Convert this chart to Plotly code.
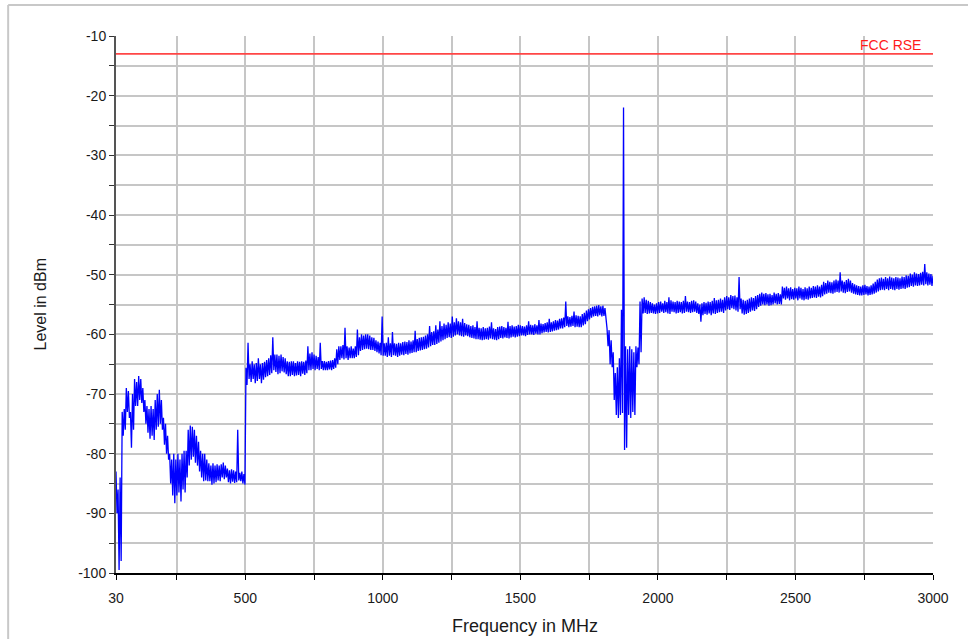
import numpy as np
import plotly.graph_objects as go

# Radiated spurious emission sweep, 30 MHz - 3 GHz.
# Each 7.5 MHz bin keeps the max-peak and min-peak detector readings.
BIN_MHZ = 7.5

band_30_500_start = 30.0
band_30_500_peak = [
    -83, -86, -84, -73, -72.5, -69, -69.5, -73, -70, -67.5,
    -68, -67, -67.5, -69, -71, -72, -72.5, -72, -72.5, -71,
    -70, -69.3, -71, -74, -75, -77, -80, -81, -80, -81,
    -80, -81, -80, -79.5, -79.5, -76, -75.3, -75.5, -76, -77,
    -78, -79.5, -80, -80, -81, -81.6, -82, -81.6, -82, -81.8,
    -82, -81.8, -81.5, -82, -82.5, -82.8, -82.6, -82.8, -83, -76,
    -83.2, -83, -83.4,
]
band_30_500_floor = [
    -90, -99.5, -98, -77, -76, -73, -74, -79, -76, -72,
    -72, -71, -71.5, -73, -75, -76.5, -77.5, -77, -77.7, -76,
    -75.5, -75, -76, -78.5, -80, -81, -85, -87, -88.3, -87,
    -86.5, -88, -86, -86.5, -84, -82, -81, -80.5, -81.5, -82,
    -83, -84, -84.6, -84.5, -84.6, -84.6, -85.2, -85, -84.8, -84.5,
    -84.6, -84, -84.3, -84, -84.8, -85, -84.7, -84.9, -84.8, -84.5,
    -84.6, -85, -85.2,
]

band_500_1000_start = 502.5
band_500_1000_peak = [
    -65.6, -61.4, -65, -64.5, -65, -64.8, -64, -65, -64.8, -64.6,
    -64.3, -64, -63.5, -60.5, -63.4, -63.4, -63.6, -63.4, -63.8, -64,
    -64.5, -64.6, -64.5, -64.5, -64.8, -64.5, -64.6, -64.5, -64.6, -64.4,
    -62, -63.2, -63, -63.4, -63.6, -63.8, -61.4, -64.5, -64.5, -64.6,
    -64.5, -64.4, -64.3, -64, -62.5, -62, -62, -61.8, -58.9, -62,
    -62.2, -62, -62.4, -62, -59.2, -60.5, -60, -60.2, -60, -60,
    -60.2, -60.5, -60.6, -61, -61.2, -61.4, -57,
]
band_500_1000_floor = [
    -68.5, -67.5, -68, -67.5, -68.2, -67.8, -67.5, -68.2, -67.6, -67.2,
    -67, -66.8, -66.5, -66, -66.3, -66.7, -66.5, -66.2, -66.4, -66.7,
    -67, -67, -66.8, -67, -66.9, -66.8, -67, -66.6, -66.8, -66.5,
    -66, -66, -65.8, -66, -65.8, -66, -65.8, -66, -66, -66,
    -65.9, -66, -65.8, -65.6, -65, -64.3, -64, -64.2, -64, -64.3,
    -64, -64, -64, -63.8, -63.5, -62.8, -62.6, -62.5, -62.4, -62.5,
    -62.6, -62.6, -62.8, -63, -63.2, -63.5, -63.6,
]

band_1000_1500_start = 1005.0
band_1000_1500_peak = [
    -61.5, -61.4, -60.5, -61.5, -59.6, -61.5, -61.6, -61.4, -61.5, -61.3,
    -61.2, -61.3, -61, -61.2, -61, -59.4, -60.8, -60.6, -60.5, -60.4,
    -60.2, -60, -58.6, -59.6, -59.5, -58.5, -59.2, -57.8, -58.6, -58.2,
    -58.4, -58, -58.2, -57, -58, -57.3, -57.8, -58, -57.4, -58.1,
    -58.3, -58.4, -58.6, -58.5, -58.8, -57.8, -58.9, -59, -58.8, -59,
    -58.9, -58.7, -58, -59, -59.1, -58.8, -58.7, -58.6, -58.8, -58.9,
    -57.9, -58.6, -58.5, -58.7, -58.6, -58.4, -58.5,
]
band_1000_1500_floor = [
    -63.6, -63.8, -63.6, -63.8, -63.5, -63.6, -63.8, -63.6, -63.4, -63.5,
    -63.3, -63.4, -63.2, -63.1, -63, -63, -62.8, -62.7, -62.6, -62.5,
    -62.4, -62.2, -62, -61.8, -61.8, -61.6, -61.4, -61.2, -61, -60.8,
    -60.6, -60.5, -60.6, -60.4, -60.2, -60, -60.2, -60.3, -60.4, -60.2,
    -60.3, -60.5, -60.6, -60.7, -60.8, -60.8, -60.9, -61, -60.9, -60.8,
    -60.9, -60.7, -60.8, -60.9, -61, -60.8, -60.6, -60.7, -60.5, -60.6,
    -60.7, -60.5, -60.4, -60.5, -60.4, -60.3, -60.2,
]

band_1500_2000_start = 1507.5
band_1500_2000_peak = [
    -58.6, -58.7, -58.5, -57.8, -58.4, -58.5, -58.3, -58.5, -57.6, -58.2,
    -58.3, -58.1, -58, -57.4, -58, -57.8, -57.6, -57.7, -57.4, -57.3,
    -57.2, -54.5, -57, -57.1, -56.9, -56.2, -56.8, -56.9, -57, -56.6,
    -56.4, -56, -55.8, -55.6, -55.4, -55.3, -55.2, -55.1, -55.3, -55.2,
    -55.6, -59, -59.3, -61, -63, -66.5, -65.5, -64, -55.9, -22,
    -62, -62.5, -62, -62.5, -63, -62, -62.2, -54.5, -54, -53.8,
    -54.2, -54.4, -54.6, -54.8, -55, -54.8,
]
band_1500_2000_floor = [
    -60.2, -60.3, -60.1, -60, -60, -60.1, -59.9, -60, -60, -59.8,
    -59.7, -59.6, -59.7, -59.6, -59.5, -59.4, -59.3, -59.2, -59, -59,
    -58.8, -58.6, -58.8, -58.7, -58.6, -58.8, -58.7, -58.8, -58.8, -58.5,
    -58.3, -57.8, -57.5, -57.2, -57, -56.9, -57, -56.8, -57, -56.9,
    -57.2, -62, -65, -65.5, -71, -73.5, -74, -73.5, -73.2, -79.4,
    -79, -73.5, -74, -73, -73.5, -65.5, -65, -63, -56.5, -56.4,
    -56.6, -56.5, -56.4, -56.5, -56.6, -56.5,
]

band_2000_2500_start = 2002.5
band_2000_2500_peak = [
    -54.6, -54.5, -54.8, -54.4, -54.6, -53.8, -54.3, -54.5, -54.6, -54.4,
    -54.5, -54.6, -54.4, -53.6, -54.5, -54.6, -54.4, -54.3, -54.5, -54.8,
    -55, -54.8, -54.6, -54.7, -54.5, -54.6, -54.4, -53.9, -54.3, -54.2,
    -54, -54.2, -53.8, -53.6, -53.8, -53.4, -53.6, -53.5, -53.8, -50.4,
    -54, -54.2, -54.4, -54.2, -54, -53.8, -53.9, -53.6, -53.4, -53.2,
    -53, -53.2, -53.1, -53.3, -53.2, -53.4, -53, -53.2, -53.1, -53.3,
    -52, -52.2, -52, -52.3, -52.1, -52.4, -52.2,
]
band_2000_2500_floor = [
    -56.4, -56.2, -56.4, -56.3, -56.5, -56.6, -56.2, -56.3, -56.5, -56.4,
    -56.3, -56.5, -56.4, -56.2, -56.3, -56.4, -56.3, -56.2, -56.4, -56.6,
    -57.9, -56.8, -56.6, -56.7, -56.5, -56.8, -56.5, -56.6, -56.4, -56.3,
    -56.2, -56.4, -56, -55.8, -55.9, -55.6, -55.8, -56, -56.2, -55.8,
    -56.5, -56.7, -56.6, -56.4, -56.2, -56, -56.1, -55.8, -55.4, -55.2,
    -55, -55.1, -55, -55.2, -55.1, -55, -54.8, -55, -54.9, -55,
    -54, -54.2, -54, -54.3, -54.1, -54.2, -54,
]

band_2500_3000_start = 2505.0
band_2500_3000_peak = [
    -52.3, -52, -52.2, -52.4, -52.1, -52.3, -52, -52.2, -51.9, -52,
    -51.8, -52, -51.7, -51.2, -51.4, -51, -51.2, -51.3, -51, -50.8,
    -51, -49.6, -51, -51.2, -50.9, -50.7, -51, -51.4, -51.6, -51.8,
    -51.9, -52, -51.8, -51.7, -51.9, -52, -51.8, -51.5, -51.2, -50.8,
    -50.6, -50.5, -50.7, -50.4, -50.6, -50.3, -50.5, -50.6, -50.4, -50.5,
    -50.6, -50.3, -50.4, -50.1, -50.2, -49.8, -50, -49.6, -49.8, -49.9,
    -49.7, -49.5, -48.2, -49.6, -49.8, -49.9, -50.2,
]
band_2500_3000_floor = [
    -54.3, -54, -54.2, -54.3, -54.1, -54.2, -54, -53.9, -53.8, -53.9,
    -53.7, -53.8, -53.6, -53.3, -53.2, -53, -53.1, -53.2, -53, -52.9,
    -53, -52.8, -53, -53.1, -52.9, -52.8, -53, -53.2, -53.3, -53.4,
    -53.5, -53.5, -53.4, -53.3, -53.5, -53.4, -53.3, -53.2, -53, -52.8,
    -52.6, -52.5, -52.6, -52.4, -52.6, -52.4, -52.5, -52.6, -52.4, -52.5,
    -52.4, -52.3, -52.4, -52.2, -52.1, -51.9, -52, -51.8, -51.9, -51.8,
    -51.7, -51.8, -51.6, -51.8, -51.7, -51.9, -51.6,
]

# FCC radiated spurious emission limit
limit_label = "FCC RSE"
limit_dbm = -13.0
limit_freqs = [30, 3000]

x_tick_vals = [30, 250, 500, 750, 1000, 1250, 1500, 1750, 2000, 2250, 2500, 2750, 3000]
x_tick_text = ["30", "", "500", "", "1000", "", "1500", "", "2000", "", "2500", "", "3000"]
y_tick_vals = [-100, -95, -90, -85, -80, -75, -70, -65, -60, -55, -50, -45, -40,
               -35, -30, -25, -20, -15, -10]
y_tick_text = ["-100", "", "-90", "", "-80", "", "-70", "", "-60", "", "-50", "", "-40",
               "", "-30", "", "-20", "", "-10"]

bands = [
    (band_30_500_start, band_30_500_peak, band_30_500_floor),
    (band_500_1000_start, band_500_1000_peak, band_500_1000_floor),
    (band_1000_1500_start, band_1000_1500_peak, band_1000_1500_floor),
    (band_1500_2000_start, band_1500_2000_peak, band_1500_2000_floor),
    (band_2000_2500_start, band_2000_2500_peak, band_2000_2500_floor),
    (band_2500_3000_start, band_2500_3000_peak, band_2500_3000_floor),
]

# the trace alternates max- and min-peak readings inside each bin
freq = []
level = []
for start, peaks, floors in bands:
    bin_freqs = start + BIN_MHZ * np.arange(len(peaks))
    for f, hi, lo in zip(bin_freqs, peaks, floors):
        freq.extend([float(f), float(f) + BIN_MHZ / 2])
        level.extend([hi, lo])

FONT = "Liberation Sans, Arial, sans-serif"
TEXT = "#1a1a1a"

fig = go.Figure()
fig.add_trace(go.Scatter(
    x=limit_freqs, y=[limit_dbm] * len(limit_freqs), mode="lines",
    line=dict(color="rgb(255,70,70)", width=1.6), hoverinfo="skip",
))
fig.add_trace(go.Scatter(
    x=freq, y=level, mode="lines",
    line=dict(color="#0000ff", width=1.3), hoverinfo="skip",
))

fig.add_annotation(
    x=limit_freqs[-1], y=limit_dbm, xref="x", yref="y", text=limit_label,
    showarrow=False, xanchor="right", yanchor="bottom", xshift=-10, yshift=-1,
    font=dict(family=FONT, size=14, color="#ff1a1a"),
)
fig.add_annotation(
    x=0.5, y=-0.098, xref="paper", yref="paper", text="Frequency in MHz",
    showarrow=False, xanchor="center", yanchor="middle",
    font=dict(family=FONT, size=18, color=TEXT),
)
fig.add_annotation(
    x=-0.093, y=0.5, xref="paper", yref="paper", text="Level in dBm",
    showarrow=False, textangle=-90, xanchor="center", yanchor="middle",
    font=dict(family=FONT, size=16, color=TEXT),
)

# outer frame of the page
fig.add_shape(type="line", xref="paper", yref="paper", x0=-0.132, x1=1.1,
              y0=1.0577, y1=1.0577, line=dict(color="#c8c8c8", width=2), layer="below")
fig.add_shape(type="line", xref="paper", yref="paper", x0=-0.132, x1=-0.132,
              y0=-0.2, y1=1.0577, line=dict(color="#c8c8c8", width=2), layer="below")

fig.update_layout(
    width=968, height=639,
    margin=dict(l=116, r=35, t=36, b=66),
    paper_bgcolor="white", plot_bgcolor="white",
    showlegend=False,
    font=dict(family=FONT, size=14, color=TEXT),
    xaxis=dict(
        range=[30, 3000], tickmode="array", tickvals=x_tick_vals, ticktext=x_tick_text,
        showgrid=True, gridcolor="#c6c6c6", gridwidth=1.5,
        showline=True, linecolor="#000000", linewidth=1.5,
        ticks="outside", ticklen=5, tickcolor="#000000", tickwidth=1,
        ticklabelstandoff=6, zeroline=False,
        tickfont=dict(family=FONT, size=14, color=TEXT),
    ),
    yaxis=dict(
        range=[-100, -10], tickmode="array", tickvals=y_tick_vals, ticktext=y_tick_text,
        showgrid=True, gridcolor="#c6c6c6", gridwidth=1.5,
        showline=True, linecolor="#555555", linewidth=2,
        ticks="outside", ticklen=5, tickcolor="#333333", tickwidth=1,
        zeroline=False,
        tickfont=dict(family=FONT, size=14, color=TEXT),
    ),
)

fig.write_html("out.html")
